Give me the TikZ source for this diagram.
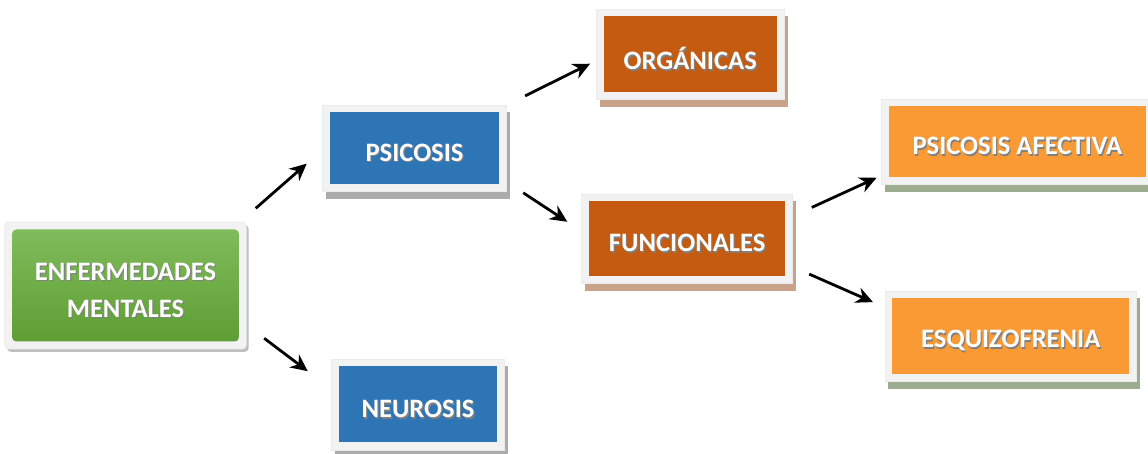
\documentclass[tikz,border=0pt]{standalone}
\usepackage{fontspec}
\setmainfont{Carlito}
\usetikzlibrary{arrows.meta,shadows}

\definecolor{framegray}{HTML}{F2F2F2}
\definecolor{greentop}{HTML}{82BE5E}
\definecolor{greenbottom}{HTML}{5C9C31}
\definecolor{bluebox}{HTML}{2E75B6}
\definecolor{brownbox}{HTML}{C55A11}
\definecolor{orangebox}{HTML}{F99A35}
\definecolor{grayshadow}{HTML}{ABABAB}
\definecolor{brownshadow}{HTML}{C9A28A}
\definecolor{greenshadow}{HTML}{9BAC8F}

% white text with a dark shadow behind it, set a little low in the box
\newcommand\shtxt[1]{\raisebox{-2.6pt}[\height][\depth]{\rlap{\hspace{0.6pt}\raisebox{-0.7pt}{\textcolor{black!50}{#1}}}#1}}

\begin{document}
\begin{tikzpicture}[x=1pt,y=1pt]
    % Define the styles for the boxes and arrows
    \tikzset{box/.style={rectangle, fill=framegray, draw=black!8, line width=0.3pt, inner sep=0pt, outer sep=0pt,
        text=white, font=\bfseries\fontsize{13.3}{18.5}\selectfont, align=center,
        path picture={\fill[#1] ([shift={(3.75pt,-3.75pt)}]path picture bounding box.north west)
            rectangle ([shift={(-3.75pt,3.75pt)}]path picture bounding box.south east);}},
      boxshadow/.style={drop shadow={shadow xshift=1.75pt, shadow yshift=-3.75pt, fill=#1, opacity=1, draw=none}}}
    \tikzstyle{arrow}=[line width=1.4pt, -{Stealth[length=8.5pt,width=8pt]}]

    \useasboundingbox[fill=white] (0,0) rectangle (574,-227);

    % Draw the boxes
    \node[box={top color=greentop, bottom color=greenbottom}, rounded corners=2pt,
          drop shadow={shadow xshift=1.2pt, shadow yshift=-1.5pt, fill=black, opacity=0.25},
          minimum width=120.8pt, minimum height=63.5pt] (enfermedades) at (62.75,-142.75) {\shtxt{ENFERMEDADES}\\\shtxt{MENTALES}};
    \node[box=bluebox, boxshadow=grayshadow, minimum width=92.2pt, minimum height=43.4pt] (psicosis) at (207.25,-74.2) {\shtxt{PSICOSIS}};
    \node[box=bluebox, boxshadow=grayshadow, minimum width=86.3pt, minimum height=45.5pt] (neurosis) at (209,-202.25) {\shtxt{NEUROSIS}};
    \node[box=brownbox, boxshadow=brownshadow, minimum width=94.2pt, minimum height=45.2pt] (organicas) at (345.1,-27.1) {\shtxt{ORGÁNICAS}};
    \node[box=brownbox, boxshadow=brownshadow, minimum width=105.5pt, minimum height=44.7pt] (funcionales) at (343.6,-119.3) {\shtxt{FUNCIONALES}};
    \node[box=orangebox, boxshadow=greenshadow, minimum width=135.7pt, minimum height=42.7pt] (psicosis_afectiva) at (508.7,-70.8) {\shtxt{PSICOSIS AFECTIVA}};
    \node[box=orangebox, boxshadow=greenshadow, minimum width=125.9pt, minimum height=45.4pt] (esquizofrenia) at (505.4,-168.2) {\shtxt{ESQUIZOFRENIA}};

    % Draw the arrows between the boxes
    \draw[arrow, shorten <=10.4pt, shorten >=10.35pt] (enfermedades.29) -- (psicosis.181);
    \draw[arrow, shorten <=11.2pt, shorten >=15pt] (enfermedades.-18.5) -- (neurosis.170);
    \draw[arrow, shorten <=10.3pt, shorten >=3.3pt] (psicosis.north east) -- (organicas.184);
    \draw[arrow, shorten <=9.9pt, shorten >=8.6pt] (psicosis.-20) -- (funcionales.176);
    \draw[arrow, shorten <=10.5pt, shorten >=2.8pt] (funcionales.12) -- (psicosis_afectiva.194);
    \draw[arrow, shorten <=9pt, shorten >=6.5pt] (funcionales.-15.5) -- (esquizofrenia.167);
\end{tikzpicture}
\end{document}
